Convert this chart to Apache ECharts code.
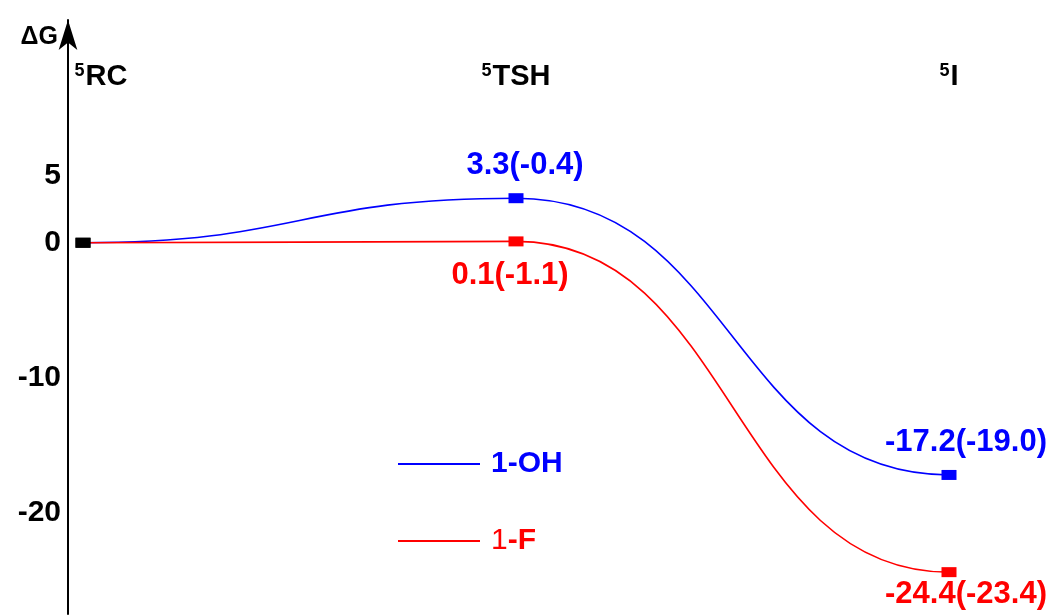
<!DOCTYPE html>
<html>
<head>
<meta charset="utf-8">
<script src="https://cdn.jsdelivr.net/npm/echarts@6/dist/echarts.min.js"></script>
<style>
  html, body { margin: 0; padding: 0; background: #fff; }
  #chart { width: 1055px; height: 615px; }
</style>
</head>
<body>
<div id="chart"></div>
<script>
// Stationary points along the reaction path (quintet surface)
const stages = ['RC', 'TSH', 'I'];
const spinLabel = '5';

// Relative free energies, with the bracketed values shown beside them
const ohEnergy = [0, 3.3, -17.2];
const ohBracket = [null, -0.4, -19.0];
const fEnergy = [0, 0.1, -24.4];
const fBracket = [null, -1.1, -23.4];

// Values printed on the energy axis
const yTicks = [5, 0, -10, -20];

const FONT = '"Liberation Sans", Arial, Helvetica, sans-serif';
const BLUE = '#0000ff';
const RED = '#ff0000';

// Energy-profile connector: each segment is a cubic with flat tangents at both stationary points
function profileSeries(name, values, color) {
  return {
    name: name,
    type: 'custom',
    clip: false,
    data: values.map((v, i) => [i, v]),
    encode: { x: 0, y: 1 },
    itemStyle: { color: color },
    z: 2,
    renderItem: (params, api) => {
      const i = params.dataIndex;
      if (i >= values.length - 1) return null;
      const a = api.coord([i, values[i]]);
      const b = api.coord([i + 1, values[i + 1]]);
      const k = 0.5 * (b[0] - a[0]);
      return {
        type: 'bezierCurve',
        shape: {
          x1: a[0], y1: a[1],
          cpx1: a[0] + k, cpy1: a[1],
          cpx2: b[0] - k, cpy2: b[1],
          x2: b[0], y2: b[1]
        },
        style: { stroke: color, lineWidth: 1.6, fill: null }
      };
    }
  };
}

// Square markers with their energy labels
function pointSeries(name, values, brackets, color, labelPlacement) {
  return {
    name: name,
    type: 'line',
    clip: false,
    symbol: 'rect',
    symbolSize: [15, 10],
    lineStyle: { opacity: 0 },
    itemStyle: { color: color },
    z: 4,
    data: values.map((v, i) => {
      if (i === 0) return { value: v, itemStyle: { color: '#000' }, label: { show: false } };
      return { value: v, label: labelPlacement[i] };
    }),
    label: {
      show: true,
      formatter: p => p.value.toFixed(1) + '(' + brackets[p.dataIndex].toFixed(1) + ')',
      fontFamily: FONT,
      fontWeight: 'bold',
      fontSize: 31,
      color: color
    }
  };
}

const chart = echarts.init(document.getElementById('chart'), null, { renderer: 'canvas' });

chart.setOption({
  animation: false,
  backgroundColor: '#fff',
  grid: { left: 83, right: 106, top: 20, bottom: 1, containLabel: false },
  legend: {
    orient: 'vertical',
    left: 393,
    top: 444,
    itemWidth: 82,
    itemHeight: 2,
    itemGap: 47,
    icon: 'rect',
    // "1-F" keeps its leading numeral in regular weight
    formatter: name => name === '1-F' ? '{reg|1}{bold|-F}' : '{bold|' + name + '}',
    textStyle: {
      fontFamily: FONT, fontWeight: 'bold', fontSize: 30, padding: [0, 0, 0, 6],
      rich: {
        reg: { fontFamily: FONT, fontWeight: 'normal', fontSize: 30 },
        bold: { fontFamily: FONT, fontWeight: 'bold', fontSize: 30 }
      }
    },
    data: [
      { name: '1-OH', textStyle: { color: BLUE } },
      { name: '1-F', textStyle: { color: RED } }
    ]
  },
  xAxis: {
    type: 'category',
    position: 'top',
    boundaryGap: false,
    data: stages,
    axisLine: { show: false },
    axisTick: { show: false },
    splitLine: { show: false },
    axisLabel: {
      inside: true,
      margin: 42,
      interval: 0,
      formatter: (v, i) => (i === 0 ? '{pad|}' : '') + '{sup|' + spinLabel + '}{main|' + v + '}',
      rich: {
        pad: { width: 36 },
        sup: { fontFamily: FONT, fontWeight: 'bold', fontSize: 18, color: '#000', verticalAlign: 'top', padding: [0, 1, 0, 0] },
        main: { fontFamily: FONT, fontWeight: 'bold', fontSize: 29, color: '#000' }
      }
    }
  },
  yAxis: {
    type: 'value',
    min: -27.5,
    max: 16.5,
    offset: 15,
    name: 'ΔG',
    nameLocation: 'end',
    nameGap: -30,
    nameTextStyle: { fontFamily: FONT, fontWeight: 'bold', fontSize: 25, color: '#000', align: 'right', padding: [0, 10, 0, 0] },
    axisLine: {
      show: true,
      lineStyle: { color: '#000', width: 2 },
      symbol: ['none', 'arrow'],
      symbolSize: [14, 30],
      symbolOffset: [0, 0]
    },
    axisTick: { show: false },
    splitLine: { show: false },
    axisLabel: {
      customValues: yTicks,
      margin: 7,
      fontFamily: FONT,
      fontWeight: 'bold',
      fontSize: 30,
      color: '#000'
    }
  },
  series: [
    profileSeries('1-OH', ohEnergy, BLUE),
    profileSeries('1-F', fEnergy, RED),
    pointSeries('1-OH', ohEnergy, ohBracket, BLUE, [
      null,
      { position: 'top', distance: 12, offset: [9, 0] },
      { position: 'top', distance: 12, offset: [17, 0] }
    ]),
    pointSeries('1-F', fEnergy, fBracket, RED, [
      null,
      { position: 'bottom', distance: 14, offset: [-6, 0] },
      { position: 'bottom', distance: 2, offset: [17, 0] }
    ])
  ]
});
</script>
</body>
</html>
